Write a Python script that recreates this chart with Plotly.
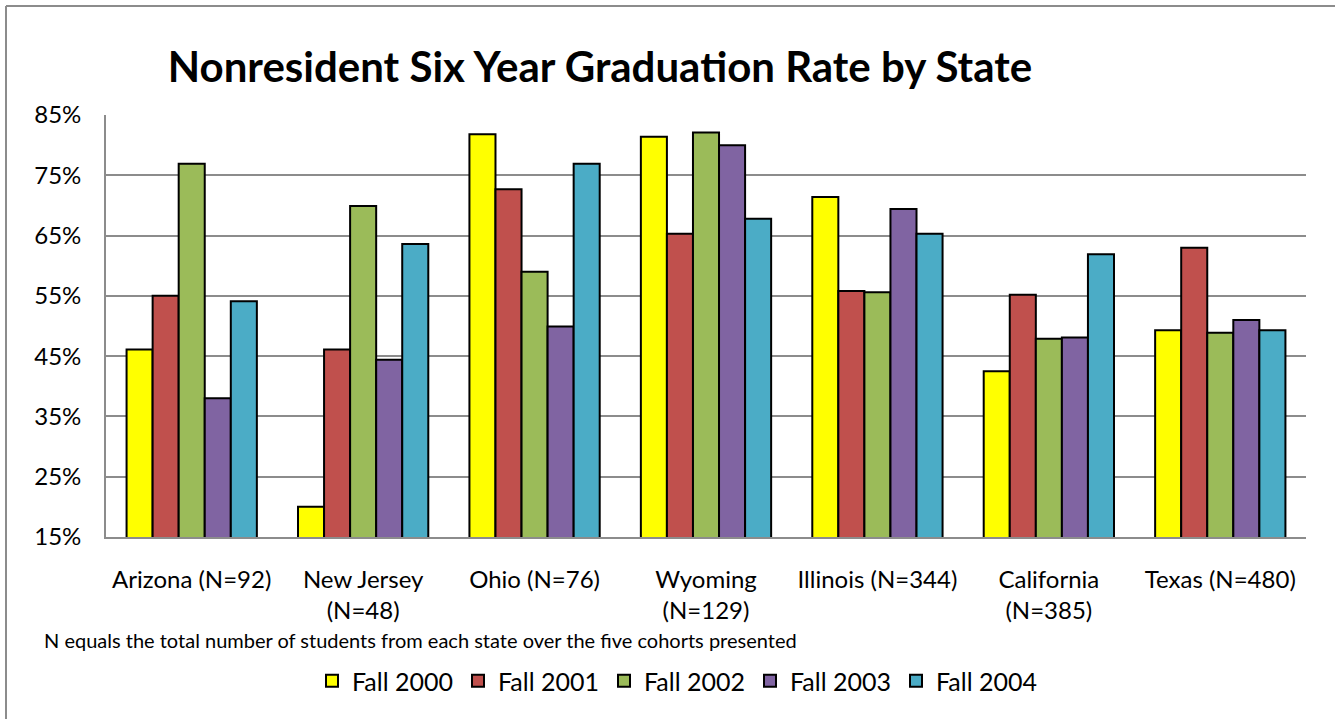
import plotly.graph_objects as go

categories = ["Arizona (N=92)", "New Jersey<br>(N=48)", "Ohio (N=76)", "Wyoming<br>(N=129)",
              "Illinois (N=344)", "California<br>(N=385)", "Texas (N=480)"]
series_names = ["Fall 2000", "Fall 2001", "Fall 2002", "Fall 2003", "Fall 2004"]
fall_2000 = [46.1, 20.0, 81.8, 81.4, 71.4, 42.5, 49.3]
fall_2001 = [55.0, 46.1, 72.7, 65.3, 55.8, 55.2, 63.0]
fall_2002 = [76.9, 69.9, 59.0, 82.1, 55.6, 47.9, 48.9]
fall_2003 = [38.0, 44.4, 49.9, 80.0, 69.4, 48.1, 51.0]
fall_2004 = [54.1, 63.6, 76.9, 67.8, 65.3, 61.9, 49.3]
colors = ["#FFFF00", "#C0504D", "#9BBB59", "#8064A2", "#4BACC6"]
y_ticks = [15, 25, 35, 45, 55, 65, 75, 85]
y_tick_text = [f"{v}%" for v in y_ticks]

FONT = "Lato"
W, H = 1335, 719
L, R, T, B = 106, 1306, 115, 537

fig = go.Figure()
for name, vals, col in zip(series_names, [fall_2000, fall_2001, fall_2002, fall_2003, fall_2004], colors):
    fig.add_trace(go.Bar(
        x=categories, y=vals, name=name,
        marker=dict(color=col, line=dict(color="black", width=2)),
    ))

def px_x(p):
    return (p - L) / (R - L)

def px_y(p):
    return (B - p) / (B - T)

fig.update_layout(
    width=W, height=H,
    margin=dict(l=L, r=W - R, t=T, b=H - B, pad=0),
    paper_bgcolor="white", plot_bgcolor="white",
    barmode="group", bargap=0.24, bargroupgap=0,
    font=dict(family=FONT, color="black", size=24),
    title=dict(text="<b>Nonresident Six Year Graduation Rate by State</b>",
               font=dict(family=FONT, size=42, color="black"),
               xref="container", x=600 / W, xanchor="center",
               yref="container", y=1 - 67 / H, yanchor="middle"),
    yaxis=dict(range=[15, 85], tickvals=y_ticks, ticktext=y_tick_text,
               showgrid=True, gridcolor="#8c8c8c", gridwidth=1.8,
               showline=True, linecolor="#8c8c8c", linewidth=1.8,
               zeroline=False, ticklabelstandoff=18,
               tickfont=dict(family=FONT, size=24, color="black")),
    xaxis=dict(showline=True, linecolor="#8c8c8c", linewidth=1.8,
               showgrid=False, ticklabelstandoff=20,
               tickfont=dict(family=FONT, size=24, color="black")),
    legend=dict(orientation="h", x=px_x(677), xanchor="center",
                y=px_y(681), yanchor="middle",
                font=dict(family=FONT, size=25, color="black"),
                itemwidth=30, traceorder="normal"),
    showlegend=True,
)

fig.add_annotation(
    text="N equals the total number of students from each state over the five cohorts presented",
    xref="paper", yref="paper", x=px_x(42), y=px_y(640),
    xanchor="left", yanchor="middle", showarrow=False,
    font=dict(family=FONT, size=20, color="black"),
)

# outer chart border (left and top edges visible)
fig.add_shape(type="line", xref="paper", yref="paper",
              x0=px_x(6), x1=px_x(6), y0=px_y(6), y1=px_y(730),
              line=dict(color="#8c8c8c", width=2))
fig.add_shape(type="line", xref="paper", yref="paper",
              x0=px_x(6), x1=px_x(1345), y0=px_y(6), y1=px_y(6),
              line=dict(color="#8c8c8c", width=2))

fig.write_html("out.html", config={"displayModeBar": False},
               post_script="document.body.style.margin='0px';")
